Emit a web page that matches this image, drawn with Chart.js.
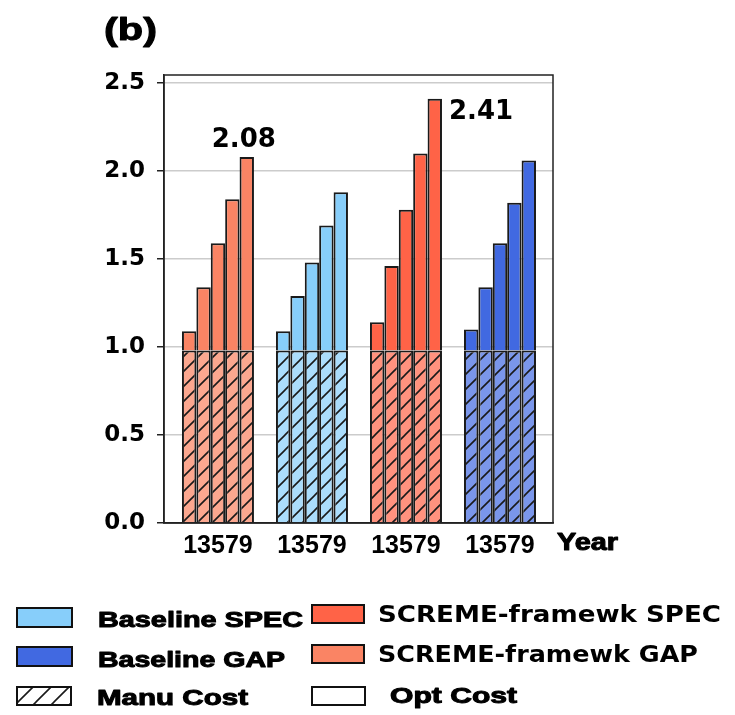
<!DOCTYPE html>
<html>
<head>
<meta charset="utf-8">
<script src="https://cdn.jsdelivr.net/npm/chart.js@4"></script>
<style>
  html, body { margin: 0; padding: 0; background: #fff; }
  #wrap { width: 735px; height: 715px; position: relative; }
</style>
</head>
<body>
<div id="wrap"><canvas id="costChart"></canvas></div>
<script>
// groups left to right along the x axis
var groupLabels = ['SCREME-framewk GAP', 'Baseline SPEC', 'SCREME-framewk SPEC', 'Baseline GAP'];
var years = ['1', '3', '5', '7', '9'];

// manufacturing cost (hatched part) for each group
var manuCost = [0.98, 0.98, 0.98, 0.98];

// total cost per year for each group
var scremeGapTotal = [1.09, 1.34, 1.59, 1.84, 2.08];
var baselineSpecTotal = [1.09, 1.29, 1.48, 1.69, 1.88];
var scremeSpecTotal = [1.14, 1.46, 1.78, 2.10, 2.41];
var baselineGapTotal = [1.10, 1.34, 1.59, 1.82, 2.06];
var totals = [scremeGapTotal, baselineSpecTotal, scremeSpecTotal, baselineGapTotal];

var yTicks = [0, 0.5, 1.0, 1.5, 2.0, 2.5];

var optColors = ['#FA8464', '#87CEFA', '#FF6347', '#4169E1'];
var manuColors = ['#FBA78F', '#ABDDFC', '#FF927E', '#7A96EA'];

// diagonal hatch tile on a given fill colour
function makeHatch(fill, size) {
    var c = document.createElement('canvas');
    c.width = size;
    c.height = size;
    var g = c.getContext('2d');
    g.fillStyle = fill;
    g.fillRect(0, 0, size, size);
    g.strokeStyle = '#1a1a1a';
    g.lineWidth = 1.6;
    g.beginPath();
    g.moveTo(0, size); g.lineTo(size, 0);
    g.moveTo(-2, 2); g.lineTo(2, -2);
    g.moveTo(size - 2, size + 2); g.lineTo(size + 2, size - 2);
    g.stroke();
    return g.createPattern(c, 'repeat');
}

var manuPatterns = manuColors.map(function (col) { return makeHatch(col, 15); });

// one stack per year: hatched manu part + solid opt part on top
var datasets = [];
years.forEach(function (yr, j) {
    datasets.push({
        label: 'Manu Cost ' + yr,
        stack: 'y' + yr,
        data: totals.map(function (t, i) { return { x: i, y: manuCost[i] }; }),
        backgroundColor: manuPatterns,
        borderColor: '#1a1a1a',
        borderWidth: 2
    });
    datasets.push({
        label: 'Opt Cost ' + yr,
        stack: 'y' + yr,
        data: totals.map(function (t, i) { return { x: i, y: +(t[j] - manuCost[i]).toFixed(3) }; }),
        backgroundColor: optColors,
        borderColor: '#1a1a1a',
        borderWidth: 2
    });
});

// draw text squeezed/stretched to a target width, optionally thickened
function fitText(ctx, text, x, y, font, width, align, heavy) {
    ctx.save();
    ctx.font = font;
    ctx.fillStyle = '#000';
    ctx.strokeStyle = '#000';
    ctx.textBaseline = 'alphabetic';
    var w = ctx.measureText(text).width;
    var sx = width ? width / w : 1;
    var left = align === 'center' ? x - (w * sx) / 2 : x;
    ctx.translate(left, y);
    ctx.scale(sx, 1);
    ctx.textAlign = 'left';
    ctx.fillText(text, 0, 0);
    if (heavy) {
        ctx.lineWidth = heavy;
        ctx.lineJoin = 'round';
        ctx.strokeText(text, 0, 0);
    }
    ctx.restore();
}

var legendItems = [
    { text: 'Baseline SPEC', fill: '#87CEFA', box: [17, 608, 55, 19], tx: 98, ty: 627, tw: 205, font: 'bold 22px "Liberation Sans"', heavy: 1 },
    { text: 'Baseline GAP', fill: '#4169E1', box: [17, 647, 55, 19], tx: 98, ty: 667, tw: 187, font: 'bold 22px "Liberation Sans"', heavy: 1 },
    { text: 'Manu Cost', fill: 'hatch', box: [17, 687, 54, 18], tx: 97, ty: 705, tw: 151, font: 'bold 22px "Liberation Sans"', heavy: 1 },
    { text: 'SCREME-framewk SPEC', fill: '#FF6347', box: [312, 605, 52, 18], tx: 378, ty: 622, tw: 343, font: 'bold 23px "DejaVu Sans"', heavy: 0 },
    { text: 'SCREME-framewk GAP', fill: '#FA8464', box: [312, 645, 52, 18], tx: 378, ty: 662, tw: 320, font: 'bold 23px "DejaVu Sans"', heavy: 0 },
    { text: 'Opt Cost', fill: '#ffffff', box: [312, 687, 53, 18], tx: 390, ty: 703, tw: 127, font: 'bold 22px "Liberation Sans"', heavy: 1 }
];

var extrasPlugin = {
    id: 'extras',
    afterDatasetsDraw: function (chart) {
        var ctx = chart.ctx;
        var area = chart.chartArea;

        // frame round the plot
        ctx.save();
        ctx.strokeStyle = '#222';
        ctx.lineWidth = 1.5;
        ctx.strokeRect(area.left, area.top, area.right - area.left, area.bottom - area.top);
        ctx.restore();

        // value labels on the last year's bars
        var lastOpt = chart.getDatasetMeta(datasets.length - 1);
        var b0 = lastOpt.data[0];
        fitText(ctx, scremeGapTotal[4].toFixed(2), b0.x - 3, b0.y - 10, 'bold 26px "DejaVu Sans"', 0, 'center');
        var b2 = lastOpt.data[2];
        fitText(ctx, scremeSpecTotal[4].toFixed(2), b2.x + b2.width / 2 + 7, b2.y + 20, 'bold 26px "DejaVu Sans"', 0);

        // panel tag and axis name
        fitText(ctx, '(b)', 104, 40, 'bold 32px "Liberation Sans"', 53, null, 1);
        fitText(ctx, 'Year', 557, 550, 'bold 23px "Liberation Sans"', 61, null, 1);

        // legend
        var hatchWhite = makeHatch('#ffffff', 18);
        legendItems.forEach(function (it) {
            ctx.save();
            ctx.fillStyle = it.fill === 'hatch' ? hatchWhite : it.fill;
            ctx.fillRect(it.box[0], it.box[1], it.box[2], it.box[3]);
            ctx.strokeStyle = '#111';
            ctx.lineWidth = 2;
            ctx.strokeRect(it.box[0], it.box[1], it.box[2], it.box[3]);
            ctx.restore();
            fitText(ctx, it.text, it.tx, it.ty, it.font, it.tw, null, it.heavy);
        });
    }
};

var ctx = document.getElementById('costChart').getContext('2d');
new Chart(ctx, {
    type: 'bar',
    data: { datasets: datasets },
    options: {
        responsive: true,
        maintainAspectRatio: false,
        animation: false,
        categoryPercentage: 0.766,
        barPercentage: 1.0,
        layout: { padding: { top: 75, right: 182, bottom: 152, left: 0 } },
        plugins: {
            legend: { display: false },
            tooltip: { enabled: false }
        },
        scales: {
            x: {
                type: 'linear',
                stacked: true,
                min: -0.574,
                max: 3.564,
                offset: false,
                grid: { display: false, drawTicks: false },
                border: { display: true, color: '#222', width: 1.5 },
                afterBuildTicks: function (scale) {
                    scale.ticks = groupLabels.map(function (g, i) { return { value: i }; });
                },
                afterFit: function (scale) { scale.height = 40; },
                ticks: {
                    autoSkip: false,
                    maxRotation: 0,
                    padding: 8,
                    color: '#000',
                    font: { family: 'Liberation Sans', weight: 'bold', size: 25 },
                    callback: function () { return years.join(''); }
                }
            },
            y: {
                stacked: true,
                min: 0,
                max: 2.5455,
                grid: {
                    color: '#cccccc',
                    lineWidth: 1.5,
                    borderDash: [7, 4],
                    tickLength: 7,
                    tickColor: '#222',
                    tickWidth: 1.5,
                    tickBorderDash: []
                },
                border: { display: true, color: '#222', width: 1.5 },
                afterBuildTicks: function (scale) {
                    scale.ticks = yTicks.map(function (v) { return { value: v }; });
                },
                afterFit: function (scale) { scale.width = 164; },
                ticks: {
                    padding: 12,
                    color: '#000',
                    font: { family: 'DejaVu Sans', weight: 'bold', size: 23 },
                    callback: function (v) { return v.toFixed(1); }
                }
            }
        }
    },
    plugins: [extrasPlugin]
});
</script>
</body>
</html>
